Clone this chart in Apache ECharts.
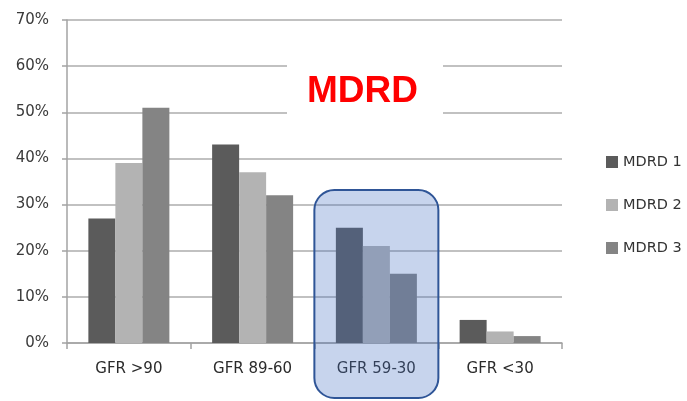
<!DOCTYPE html>
<html>
<head>
<meta charset="utf-8">
<script src="https://cdn.jsdelivr.net/npm/echarts@6/dist/echarts.min.js"></script>
<style>
  html, body { margin: 0; padding: 0; background: #ffffff; }
  #chart { width: 687px; height: 401px; }
</style>
</head>
<body>
<div id="chart"></div>
<script>
// GFR bands on the x axis
const categories = ['GFR >90', 'GFR 89-60', 'GFR 59-30', 'GFR <30'];
// Share of patients (%) per band for each MDRD estimate
const mdrd1 = [27, 43, 25, 5];
const mdrd2 = [39, 37, 21, 2.5];
const mdrd3 = [51, 32, 15, 1.5];
const seriesNames = ['MDRD 1', 'MDRD 2', 'MDRD 3'];
const yTicks = [0, 10, 20, 30, 40, 50, 60, 70];
const highlightCategory = 'GFR 59-30';

const colors = ['#5b5b5b', '#b3b3b3', '#848484'];
const labelFont = 'DejaVu Sans';

const chart = echarts.init(document.getElementById('chart'), null, { renderer: 'canvas' });

const seriesData = [mdrd1, mdrd2, mdrd3];

const option = {
  animation: false,
  backgroundColor: '#ffffff',
  color: colors,
  grid: { left: 67, right: 125, top: 20, bottom: 58, containLabel: false },
  legend: {
    orient: 'vertical',
    left: 601,
    top: 149,
    itemWidth: 12,
    itemHeight: 12,
    itemGap: 27,
    icon: 'rect',
    data: seriesNames,
    textStyle: { fontFamily: labelFont, fontSize: 14.5, color: '#333333', lineHeight: 16 }
  },
  xAxis: {
    type: 'category',
    data: categories,
    axisLine: { show: true, lineStyle: { color: '#a3a3a3', width: 1.5 } },
    axisTick: { show: true, length: 6, alignWithLabel: false, lineStyle: { color: '#a3a3a3', width: 1.5 } },
    axisLabel: { fontFamily: labelFont, fontSize: 15, color: '#2b2b2b', margin: 19 },
    splitLine: { show: false }
  },
  yAxis: {
    type: 'value',
    min: yTicks[0],
    max: yTicks[yTicks.length - 1],
    interval: 10,
    axisLine: { show: true, lineStyle: { color: '#a3a3a3', width: 1.5 } },
    axisTick: { show: true, length: 5, lineStyle: { color: '#a3a3a3', width: 1.5 } },
    axisLabel: { fontFamily: labelFont, fontSize: 15, color: '#3a3a3a', margin: 18, formatter: v => v + '%' },
    splitLine: { show: true, lineStyle: { color: '#acacac', width: 1.5 } }
  },
  series: seriesNames.map((name, i) => ({
    name: name,
    type: 'bar',
    data: seriesData[i],
    barWidth: 27,
    barGap: '0%',
    itemStyle: { color: colors[i] },
    emphasis: { disabled: true }
  }))
};

chart.setOption(option);

// Title with a white plate behind it, and a rounded highlight frame over one band
const cx = chart.convertToPixel({ xAxisIndex: 0 }, highlightCategory);
const frameW = 124;

chart.setOption({
  graphic: [
    {
      type: 'rect',
      z: 50,
      shape: { x: 287, y: 55, width: 156, height: 66 },
      style: { fill: '#ffffff' }
    },
    {
      type: 'text',
      z: 51,
      left: 307,
      top: 73,
      style: {
        text: 'MDRD',
        fill: '#ff0000',
        font: 'bold 37px "Liberation Sans", Arial, sans-serif'
      }
    },
    {
      type: 'rect',
      z: 100,
      shape: { x: cx - frameW / 2, y: 190, width: frameW, height: 208, r: 20 },
      style: {
        fill: 'rgba(68, 114, 196, 0.3)',
        stroke: '#2f5597',
        lineWidth: 2
      }
    }
  ]
});
</script>
</body>
</html>
